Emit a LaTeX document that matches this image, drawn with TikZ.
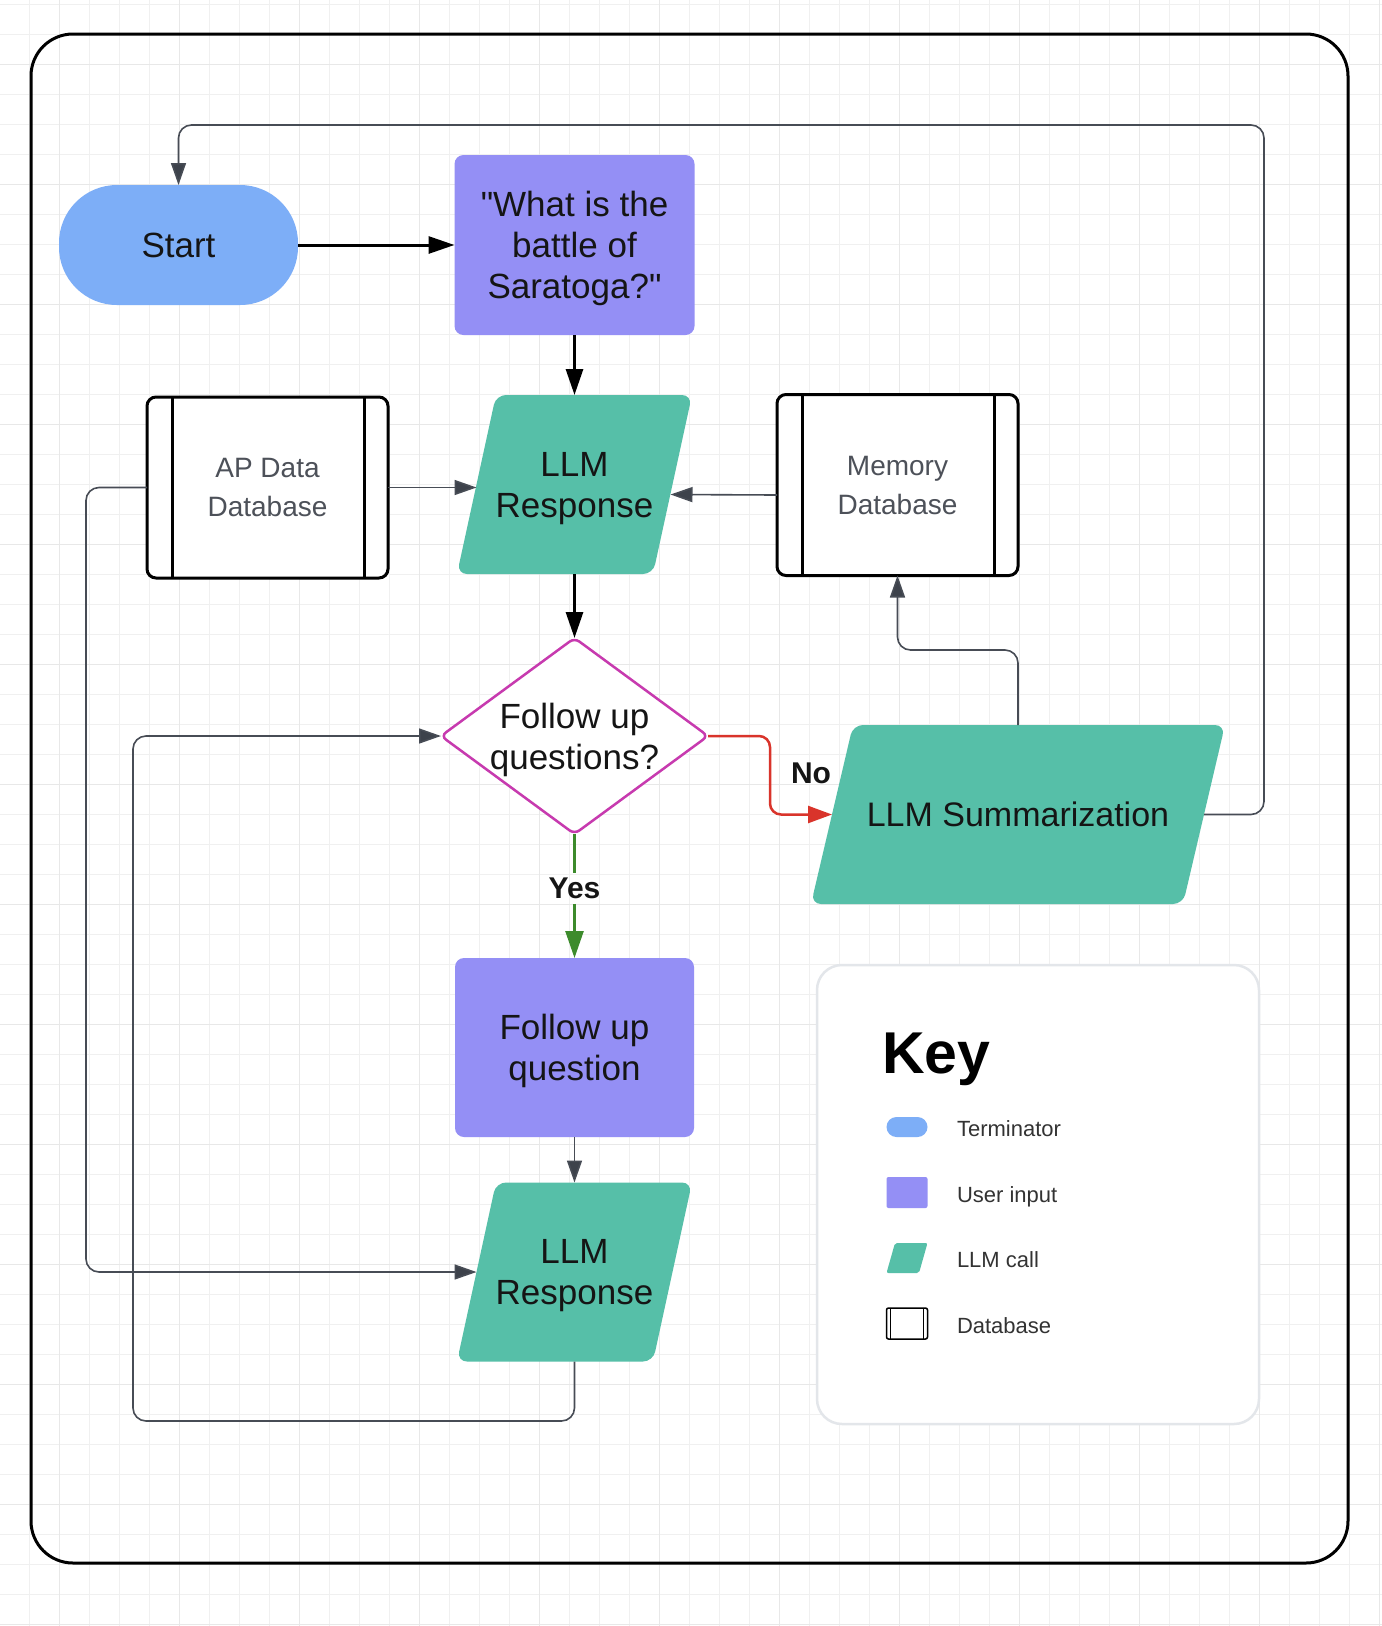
\documentclass[tikz,border=0pt]{standalone}
\usepackage{fontspec}
\setmainfont{Liberation Sans}
\usetikzlibrary{arrows.meta,shapes.geometric,calc}
\definecolor{cblue}{HTML}{7DAEF7}
\definecolor{cpurple}{HTML}{948FF5}
\definecolor{cteal}{HTML}{56BFA8}
\definecolor{cmag}{HTML}{C73AAF}
\definecolor{cred}{HTML}{D9342B}
\definecolor{cgreen}{HTML}{3D8B2C}
\definecolor{cconn}{HTML}{474C55}
\definecolor{ctip}{HTML}{3D424B}
\definecolor{ctext}{HTML}{151515}
\definecolor{cdbtext}{HTML}{4D5159}
\definecolor{clegtext}{HTML}{333333}
\definecolor{cgrid}{HTML}{F0F0F0}
\definecolor{cgridmajor}{HTML}{E8E8E8}
\definecolor{ckeyborder}{HTML}{E3E6EA}
% straight double quote glyph (bypasses the TeX ligature mapping)
\newcommand{\dquote}{\XeTeXglyph\XeTeXcharglyph"22\relax}
% parallelogram background: cx, cy, body width, height, slant, corner radius
\newcommand{\parafill}[6]{\fill[cteal, rounded corners=#6]
  ({#1-#3/2+#5/2},{#2-#4/2}) -- ({#1+#3/2+#5/2},{#2-#4/2}) --
  ({#1+#3/2-#5/2},{#2+#4/2}) -- ({#1-#3/2-#5/2},{#2+#4/2}) -- cycle;}
\begin{document}
\begin{tikzpicture}[x=1pt,y=-1pt,
  every node/.style={outer sep=0pt},
  mainfont/.style={font=\fontsize{35}{41}\selectfont, text=ctext, align=center, text depth=0pt},
  termnode/.style={mainfont, fill=cblue, minimum width=239pt, minimum height=120pt, rounded corners=58pt},
  inputnode/.style={mainfont, fill=cpurple, minimum width=240pt, minimum height=180pt, rounded corners=9pt},
  llmnode/.style={mainfont, minimum width=196pt, minimum height=179pt, inner sep=0pt},
  dbnode/.style={font=\fontsize{28}{39}\selectfont, text=cdbtext, align=center, draw=black, line width=3pt,
     fill=white, rounded corners=9pt, minimum width=241pt, minimum height=181pt},
  decnode/.style={mainfont, diamond, draw=cmag, line width=2.5pt, fill=white, aspect=1.36,
     minimum width=267pt, minimum height=196pt, inner sep=0pt, rounded corners=6pt},
  lbl/.style={font=\fontsize{30}{36}\selectfont\bfseries, text=ctext, inner ysep=5pt},
  legtext/.style={font=\fontsize{22}{26}\selectfont, text=clegtext, anchor=base west, inner sep=0pt},
  mainarrow/.style={draw=black, line width=3pt, -{Triangle[length=26pt,width=17pt]}},
  connarrow/.style={draw=cconn, line width=1.6pt, rounded corners=13pt, -{Triangle[length=22pt,width=15pt,fill=ctip]}},
  redarrow/.style={draw=cred, line width=2.5pt, rounded corners=11pt, -{Triangle[length=24pt,width=17pt]}},
  greenarrow/.style={draw=cgreen, line width=2.5pt, -{Triangle[length=27pt,width=18pt]}}
]
\useasboundingbox (0,0) rectangle (1382,1626);
\fill[white] (0,0) rectangle (1382,1626);
% grid
\foreach \i in {0,...,45} \draw[cgrid, line width=1pt] ({29+30*\i},0) -- ({29+30*\i},1626);
\foreach \j in {0,...,54} \draw[cgrid, line width=1pt] (0,{4+30*\j}) -- (1382,{4+30*\j});
\foreach \i in {0,...,11} \draw[cgridmajor, line width=1pt] ({59+120*\i},0) -- ({59+120*\i},1626);
\foreach \j in {0,...,13} \draw[cgridmajor, line width=1pt] (0,{64+120*\j}) -- (1382,{64+120*\j});
% frame
\draw[black, line width=3pt, rounded corners=42pt] (31,34) rectangle (1348,1563);

% nodes
\node[termnode] (start) at (178.5,245) {Start};
\node[inputnode] (q) at (574.5,245) {\dquote What is the\\battle of\\Saratoga?\dquote};
\parafill{574.5}{484.5}{196}{179}{39}{10pt}
\node[llmnode] (r1) at (574.5,484.5) {LLM\\Response};
\node[dbnode] (ap) at (267.5,487.5) {AP Data\\Database};
\node[dbnode] (mem) at (897.5,485) {Memory\\Database};
\draw[black, line width=3pt] ([xshift=25pt]ap.north west) -- ([xshift=25pt]ap.south west);
\draw[black, line width=3pt] ([xshift=-24pt]ap.north east) -- ([xshift=-24pt]ap.south east);
\draw[black, line width=3pt] ([xshift=25pt]mem.north west) -- ([xshift=25pt]mem.south west);
\draw[black, line width=3pt] ([xshift=-24pt]mem.north east) -- ([xshift=-24pt]mem.south east);
\node[decnode] (dec) at (574.5,736) {Follow up\\questions?};
\parafill{1018}{814.5}{372}{179}{42}{10pt}
\node[llmnode, font=\fontsize{34}{41}\selectfont, minimum width=372pt] (sum) at (1018,814.5) {LLM Summarization};
\node[inputnode, minimum width=239pt, minimum height=179pt] (fq) at (574.5,1047.5) {Follow up\\question};
\parafill{574.5}{1272}{196}{179}{39}{10pt}
\node[llmnode] (r2) at (574.5,1272) {LLM\\Response};
\node[lbl] (no) at (811,773) {No};
\node[lbl] (yes) at (574.5,888.5) {Yes};

% connectors
\draw[mainarrow] (start.east) -- (q.west);
\draw[mainarrow] (q.south) -- (r1.north);
\draw[connarrow] (ap.east) -- (ap.east -| r1.west);
\draw[connarrow] ([yshift=-10pt]mem.west) -- ([yshift=-10pt,xshift=-2pt]r1.east);
\draw[mainarrow] (r1.south) -- (dec.north);
\draw[redarrow] (dec.east) -- ++(62,0) |- (sum.west);
\draw[cgreen, line width=2.5pt] (dec.south) -- (yes.north);
\draw[greenarrow] (yes.south) -- (fq.north);
\draw[connarrow] (fq.south) -- (r2.north);
\draw[connarrow] (ap.west) -- ++(-61,0) |- (r2.west);
\draw[connarrow] (r2.south) |- (133,1421) |- (dec.west);
\draw[connarrow] (sum.north) -- ++(0,-75) -| (mem.south);
\draw[connarrow] (sum.east) -| (1264,125) -| (start.north);

% key
\node[draw=ckeyborder, line width=2.5pt, fill=white, rounded corners=25pt, minimum width=442pt, minimum height=459pt] (key) at (1038,1194.5) {};
\node[anchor=base west, font=\fontsize{59}{64}\selectfont\bfseries, text=black, inner sep=0pt] (keytitle) at (882,1073) {Key};
\node[fill=cblue, minimum width=41pt, minimum height=20pt, rounded corners=10pt, inner sep=0pt] (i1) at (907,1127) {};
\node[fill=cpurple, minimum width=41pt, minimum height=31pt, rounded corners=2pt, inner sep=0pt] (i2) at (907,1192.5) {};
\parafill{907}{1258}{32.5}{30}{8.5}{2pt}
\node[minimum width=32.5pt, minimum height=30pt, inner sep=0pt] (i3) at (907,1258) {};
\node[draw=black, line width=1.5pt, fill=white, minimum width=41pt, minimum height=31pt, rounded corners=2pt, inner sep=0pt] (i4) at (907,1323.5) {};
\draw[black, line width=1.5pt] ([xshift=4pt]i4.north west) -- ([xshift=4pt]i4.south west);
\draw[black, line width=1.5pt] ([xshift=-4pt]i4.north east) -- ([xshift=-4pt]i4.south east);
\node[legtext] (t1) at (957,1136) {Terminator};
\node[legtext] (t2) at (957,1202) {User input};
\node[legtext] (t3) at (957,1267.5) {LLM call};
\node[legtext] (t4) at (957,1333) {Database};
\end{tikzpicture}
\end{document}
